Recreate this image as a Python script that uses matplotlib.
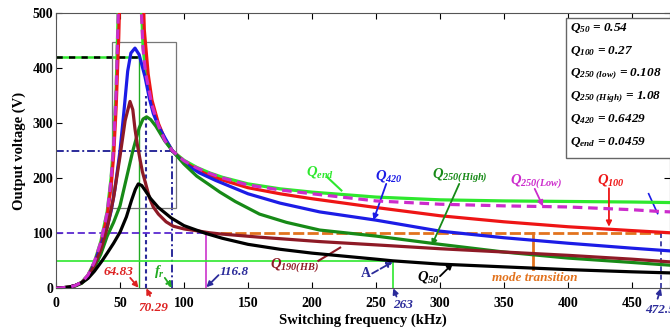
import matplotlib
matplotlib.use('Agg')
import matplotlib.pyplot as plt
from matplotlib.patches import Rectangle

plt.rcParams['font.family'] = ['Liberation Serif', 'DejaVu Serif']
plt.rcParams['font.weight'] = 'bold'
plt.rcParams['mathtext.fontset'] = 'custom'
plt.rcParams['mathtext.rm'] = 'Liberation Serif:bold:italic'
plt.rcParams['mathtext.it'] = 'Liberation Serif:bold:italic'
plt.rcParams['mathtext.bf'] = 'Liberation Serif:bold:italic'

# gain curves, output voltage (V) vs switching frequency (kHz)
f_end = [0, 10, 15, 20, 25, 30, 35, 40, 43, 45, 47, 49, 51, 55, 60, 63, 66, 68, 70, 75, 80, 85, 91,
         100, 110, 120, 130, 150, 175, 200, 250, 300, 350, 400, 450, 480]
v_end = [0, 2, 5, 11, 24, 48, 85, 140, 200, 262, 365, 540, 800, 1400, 1500, 900, 560, 440, 395, 335, 297, 270, 250,
         233, 220, 210, 202, 190, 181, 175, 166, 161, 159, 158, 157, 156]

f_low = [0, 10, 15, 20, 25, 30, 35, 40, 43, 45, 47, 49, 51, 55, 60, 63, 66, 68, 70, 75, 80, 85, 91,
         100, 110, 120, 130, 150, 175, 200, 250, 300, 350, 400, 450, 470, 480]
v_low = [0, 2, 5, 11, 24, 48, 84, 138, 197, 258, 360, 530, 780, 1300, 1400, 850, 540, 435, 392, 333, 296, 269, 250,
         232, 219, 209, 201, 188, 179, 172, 159, 153, 150, 148, 143, 140, 139]

f_100 = [0, 10, 15, 20, 25, 30, 35, 40, 43, 45, 47, 49, 51, 55, 60, 65, 67, 69, 72, 75, 80, 85, 91,
         100, 110, 120, 130, 150, 175, 200, 250, 300, 350, 400, 450, 480]
v_100 = [0, 2, 5, 10, 23, 46, 80, 132, 185, 240, 330, 455, 640, 1000, 1200, 900, 620, 470, 390, 342, 300, 272, 250,
         230, 216, 205, 197, 183, 172, 163, 147, 132, 121, 112, 105, 101]

f_420 = [0, 10, 15, 20, 25, 30, 35, 40, 43, 46, 50, 53, 56, 58.5, 61.7, 65, 69.5, 73, 76, 80, 86.5, 91,
         100, 112, 125, 150, 175, 206, 250, 300, 350, 400, 450, 480]
v_420 = [0, 2, 5, 10, 22, 45, 78, 112, 140, 180, 250, 320, 395, 428, 437, 425, 385, 345, 318, 295, 268, 250,
         228, 210, 196, 172, 155, 139, 124, 104, 92, 82, 73, 68]

f_high = [0, 10, 15, 20, 25, 30, 35, 40, 45, 50, 55, 60, 65, 68, 70.8, 74, 78, 85, 91,
          100, 110, 120, 128, 140, 159, 180, 206, 250, 300, 350, 400, 450, 480]
v_high = [0, 2, 4, 9, 19, 38, 62, 95, 120, 150, 200, 250, 292, 308, 312, 307, 295, 268, 250,
          226, 204, 188, 175, 158, 135, 120, 106, 95, 80, 66, 55, 47, 42]

f_190 = [0, 10, 15, 20, 25, 30, 35, 40, 45, 50, 54, 57.8, 60, 61.7, 63.5, 65.6, 67.5, 69.5, 73, 76, 80, 86, 91.6,
         100, 112, 120, 128, 159, 206, 250, 300, 350, 400, 450, 480]
v_190 = [0, 2, 5, 10, 21, 42, 70, 110, 165, 240, 305, 340, 325, 290, 262, 235, 212, 195, 165, 148, 135, 121, 113,
         108, 104, 101, 99, 93, 85, 79, 72, 66, 60, 53, 48]

f_50 = [0, 10, 15, 20, 25, 30, 36, 40, 45, 50, 55, 59, 62, 64.3, 67, 70, 74, 80, 90,
        100, 116.8, 130, 150, 175, 200, 250, 263, 300, 350, 400, 450, 480]
v_50 = [0, 2, 5, 10, 18, 31, 50, 64, 82, 102, 130, 160, 180, 190, 187, 177, 163, 147, 128,
        114, 100, 91, 80, 71, 64, 53, 50, 44, 39, 34, 30, 28]

# marked operating points
f_peak = 64.83
f_max = 70.29
f_r = 91.0
f_mode = 116.8
f_a = 263
f_end_pt = 472.5
q_names = [r'$Q_{50}$', r'$Q_{100}$', r'$Q_{250\ (low)}$', r'$Q_{250\ (High)}$', r'$Q_{420}$', r'$Q_{end}$']
q_values = ['0.54', '0.27', '0.108', '1.08', '0.6429', '0.0459']

fig = plt.figure(figsize=(6.7, 3.28), dpi=100)
ax = fig.add_axes([56 / 670, 39.7 / 328, 614.4 / 670, 274.8 / 328])

lime = '#2ee82e'
mag = '#cc2ccc'
red = '#ee1515'
blue = '#1c1ce6'
dgreen = '#178a17'
maroon = '#8e1a26'
navy = '#2b2b9a'
orange = '#e2731e'

lw = 2.3
ax.plot(f_end, v_end, color=lime, lw=lw, zorder=3)
ax.plot(f_low, v_low, color=mag, lw=lw, dashes=(3, 1.8), zorder=4)
ax.plot(f_100, v_100, color=red, lw=lw, zorder=3)
ax.plot(f_420, v_420, color=blue, lw=lw, zorder=3)
ax.plot(f_high, v_high, color=dgreen, lw=lw, zorder=3)
ax.plot(f_190, v_190, color=maroon, lw=lw, zorder=3)
ax.plot(f_50, v_50, color='black', lw=lw, zorder=3)

# guide lines
ax.plot([0, f_peak], [420, 420], color=lime, lw=1.8, zorder=2)
ax.plot([0, f_peak], [420, 420], color='black', lw=1.8, dashes=(2.5, 2.5), zorder=2)
ax.plot([f_peak, f_peak], [0, 420], color='#22aa22', lw=1.0, zorder=2)
ax.plot([f_max, f_max], [0, 350], color=navy, lw=1.5, dashes=(2, 1.5), zorder=2)
ax.plot([0, f_r], [250, 250], color=navy, lw=1.4, dashes=(4, 1.5, 1, 1.5), zorder=2)
ax.plot([f_r, f_r], [0, 250], color=navy, lw=1.4, dashes=(4, 1.5, 1, 1.5), zorder=2)
ax.plot([0, f_mode], [100, 100], color='#5a2ad0', lw=1.3, dashes=(4, 2), zorder=2)
ax.plot([f_mode, f_end_pt], [100, 100], color=orange, lw=2.0, dashes=(4, 1.2), zorder=2)
ax.plot([f_mode, f_mode], [0, 100], color='#cc33cc', lw=1.2, zorder=2)
ax.plot([0, f_a], [50, 50], color=lime, lw=1.2, zorder=2)
ax.plot([f_a, f_a], [0, 50], color=lime, lw=1.2, zorder=2)
ax.plot([f_end_pt, f_end_pt], [0, 100], color=navy, lw=1.2, dashes=(3, 2), zorder=2)
ax.plot([373, 373], [100, 36], color=orange, lw=2.0, zorder=2)
ax.add_patch(Rectangle((43.5, 147), 50.2, 302, fill=False, edgecolor='#777777', lw=0.9, zorder=2))

ax.set_xlim(0, 480)
ax.set_ylim(0, 500)
ax.set_xticks(range(0, 451, 50))
ax.set_yticks(range(0, 501, 100))
ax.tick_params(direction='in', top=True, right=True, length=4, labelsize=10)
ax.tick_params(axis='x', pad=6)
ax.tick_params(axis='y', pad=2)
for s in ax.spines.values():
    s.set_color('#555555')
ax.set_xlabel('Switching frequency (kHz)', fontsize=10.5, fontweight='bold', labelpad=3)
ax.set_ylabel('Output voltage (V)', fontsize=10.5, fontweight='bold', labelpad=5)


def arrow(tip, start, color, ls='-'):
    ax.annotate('', xy=tip, xytext=start, annotation_clip=False,
                arrowprops=dict(arrowstyle='-|>', color=color, lw=1.3, ls=ls,
                                mutation_scale=8, shrinkA=0, shrinkB=0))


num = dict(fontsize=9.5, fontstyle='italic', fontweight='bold', ha='center', va='center')
ax.text(48.7, 30, '64.83', color='#dd2222', **num)
arrow((64.5, 1), (58, 19), '#dd2222')
ax.text(76, -36, '70.29', color='#dd2222', clip_on=False, **num)
arrow((70.6, 0), (73.5, -14), '#dd2222')
ax.text(81, 31, r'$f_r$', color='#22aa22', fontsize=10.5, ha='center', va='center')
arrow((90.5, 1), (85, 19), '#22aa22', '--')
ax.text(139, 30, '116.8', color=navy, **num)
arrow((117.5, 2), (127, 24), navy)
ax.text(242, 27, 'A', color=navy, fontsize=10, fontweight='bold', ha='center', va='center')
arrow((263, 48), (247, 27), navy, '--')
ax.text(271, -31, '263', color=navy, clip_on=False, **num)
arrow((263.5, 0), (266, -15), navy)
ax.text(460, -39, '472.5', color=navy, ha='left', va='center', fontsize=9.5,
        fontstyle='italic', fontweight='bold', clip_on=False)
arrow((472.5, 0), (470, -19), navy)
ax.text(374, 19, 'mode transition', color=orange, fontsize=9.5, fontstyle='italic',
        fontweight='bold', ha='center', va='center')

# curve labels
lab = dict(fontsize=10.5, va='center', ha='left')
ax.text(195, 212, r'$Q_{end}$', color=lime, **lab)
ax.plot([212, 223], [202, 178], color=lime, lw=1.5)
ax.text(249, 205, r'$Q_{420}$', color=blue, **lab)
arrow((248, 124), (258, 190), blue)
ax.text(294, 206, r'$Q_{250(High)}$', color=dgreen, **lab)
arrow((293.5, 78), (315, 190), dgreen)
ax.text(355, 195, r'$Q_{250(Low)}$', color=mag, **lab)
arrow((380.5, 149), (374, 181), mag)
ax.text(423, 197, r'$Q_{100}$', color=red, **lab)
arrow((432, 112), (432, 182), red)
ax.text(167, 42, r'$Q_{190(HB)}$', color=maroon, **lab)
ax.plot([205, 222], [50, 74], color=maroon, lw=1.5)
ax.text(282, 21, r'$Q_{50}$', color='black', **lab)
arrow((310, 45), (300, 22), 'black')
ax.plot([463, 470], [172, 136], color=blue, lw=1.2)

# parameter box
ax.add_patch(Rectangle((398.5, 237), 90, 254, facecolor='white', edgecolor='#666666',
                       lw=1.0, zorder=5, clip_on=False))
box_y = [473, 431, 389, 348, 308, 266]
for name, val, yy in zip(q_names, q_values, box_y):
    ax.text(401.5, yy, name + ' = ' + val, fontsize=9.5, fontstyle='italic', fontweight='bold',
            va='center', ha='left', zorder=6)

fig.savefig('out.png', dpi=100)
